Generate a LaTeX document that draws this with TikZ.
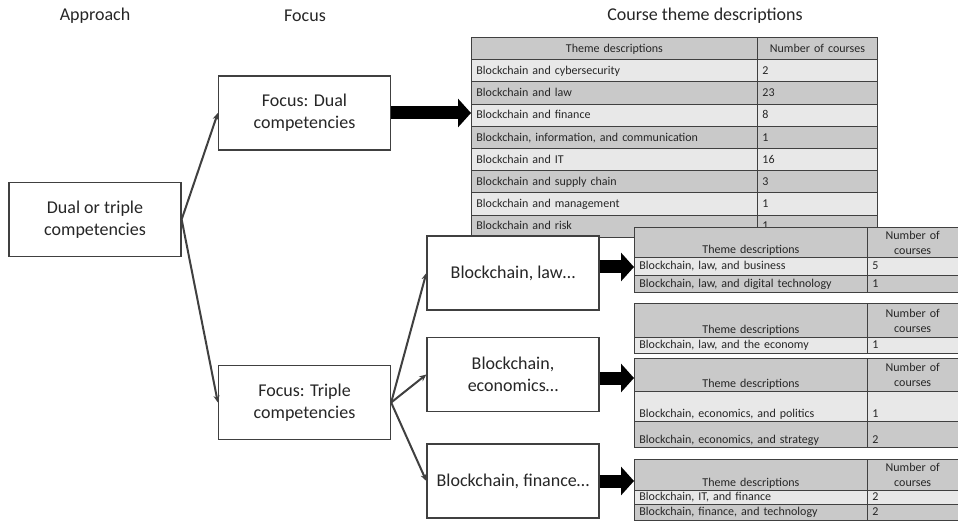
\documentclass[tikz,border=0pt]{standalone}
\usepackage{fontspec}
\setmainfont{Carlito}
\usetikzlibrary{arrows.meta, positioning}
\usepackage{xcolor}
\definecolor{edgegray}{RGB}{64,64,64}
\definecolor{headgray}{RGB}{201,201,201}
\definecolor{rowlight}{RGB}{232,232,232}
\definecolor{rowdark}{RGB}{201,201,201}

\begin{document}
\begin{tikzpicture}[x=1pt, y=-1pt,
    box/.style={rectangle, draw=edgegray, line width=1.3pt, fill=white, minimum width=172pt, minimum height=74pt, align=center, text=black!85, font=\fontsize{18}{22}\selectfont},
    title/.style={text=black!85, font=\fontsize{18}{22}\selectfont},
    link/.style={draw=edgegray, line width=2pt, -{Stealth[length=7pt, width=6pt]}},
    fat/.style={line width=13pt, -{Triangle[length=13pt, width=28pt]}},
    cell/.style={rectangle, draw=edgegray, line width=0.9pt, anchor=north west, inner xsep=5pt, inner ysep=0pt, align=left, text=black!85, font=\fontsize{12}{15}\selectfont, text height=9pt, text depth=2.5pt},
    head/.style={cell, fill=headgray, align=center, text height=, text depth=},
    rowtext/.style={text height=10pt, text depth=2.5pt},
    lowtext/.style={text depth=4pt, text height=#1}]
    \path[fill=white, use as bounding box] (0,0) rectangle (958,521);

    % Column titles
    \node[title] (approach) at (95,16) {Approach};
    \node[title] (focus) at (305,16) {Focus};
    \node[title] (themes) at (705,16) {Course theme descriptions};

    % Dual competencies table
    \node[head, rowtext, minimum width=286pt, text width=276pt, minimum height=22.2pt] (t1head) at (471,37) {Theme descriptions};
    \node[head, rowtext, minimum width=120pt, text width=110pt, minimum height=22.2pt] (t1headnum) at (757,37) {Number of courses};
    \foreach [count=\i] \theme/\num/\shade in {
        Blockchain and cybersecurity/2/rowlight,
        Blockchain and law/23/rowdark,
        Blockchain and finance/8/rowlight,
        {Blockchain, information, and communication}/1/rowdark,
        Blockchain and IT/16/rowlight,
        Blockchain and supply chain/3/rowdark,
        Blockchain and management/1/rowlight,
        Blockchain and risk/1/rowdark}{
        \node[cell, rowtext, fill=\shade, minimum width=286pt, text width=276pt, minimum height=22.2pt] (t1row\i) at (471, 37+22.2*\i) {\theme};
        \node[cell, rowtext, fill=\shade, minimum width=120pt, text width=110pt, minimum height=22.2pt] (t1num\i) at (757, 37+22.2*\i) {\num};
    }

    % Boxes
    \node[box] (dualtriple) at (95,219.5) {Dual or triple\\competencies};
    \node[box] (fdual) at (304.5,113) {Focus: Dual\\competencies};
    \node[box] (ftriple) at (304.5,402.5) {Focus: Triple\\competencies};
    \node[box] (blaw) at (513,273) {Blockchain, law…};
    \node[box] (becon) at (513,374.5) {Blockchain,\\economics…};
    \node[box] (bfin) at (513,481) {Blockchain, finance…};

    % Law table
    \node[head, minimum width=233pt, text width=223pt, minimum height=30pt, lowtext=26pt] (lawhead) at (634,227) {Theme descriptions};
    \node[head, minimum width=90.5pt, text width=80.5pt, minimum height=30pt] (lawheadnum) at (867,227) {Number of\\courses};
    \node[cell, fill=rowlight, minimum width=233pt, text width=223pt, minimum height=18pt] (lawrow1) at (634,257) {Blockchain, law, and business};
    \node[cell, fill=rowlight, minimum width=90.5pt, text width=80.5pt, minimum height=18pt] (lawnum1) at (867,257) {5};
    \node[cell, fill=rowdark, minimum width=233pt, text width=223pt, minimum height=17pt] (lawrow2) at (634,275) {Blockchain, law, and digital technology};
    \node[cell, fill=rowdark, minimum width=90.5pt, text width=80.5pt, minimum height=17pt] (lawnum2) at (867,275) {1};

    % Law and economy table
    \node[head, minimum width=233pt, text width=223pt, minimum height=34pt, lowtext=30pt] (laweconhead) at (634,303) {Theme descriptions};
    \node[head, minimum width=90.5pt, text width=80.5pt, minimum height=34pt] (laweconheadnum) at (867,303) {Number of\\courses};
    \node[cell, fill=rowlight, minimum width=233pt, text width=223pt, minimum height=16pt] (laweconrow1) at (634,337) {Blockchain, law, and the economy};
    \node[cell, fill=rowlight, minimum width=90.5pt, text width=80.5pt, minimum height=16pt] (laweconnum1) at (867,337) {1};

    % Economics table
    \node[head, minimum width=233pt, text width=223pt, minimum height=33pt, lowtext=29pt] (econhead) at (634,358) {Theme descriptions};
    \node[head, minimum width=90.5pt, text width=80.5pt, minimum height=33pt] (econheadnum) at (867,358) {Number of\\courses};
    \node[cell, fill=rowlight, minimum width=233pt, text width=223pt, minimum height=30pt, lowtext=26pt] (econrow1) at (634,391) {Blockchain, economics, and politics};
    \node[cell, fill=rowlight, minimum width=90.5pt, text width=80.5pt, minimum height=30pt, lowtext=26pt] (econnum1) at (867,391) {1};
    \node[cell, fill=rowdark, minimum width=233pt, text width=223pt, minimum height=26pt, lowtext=22pt] (econrow2) at (634,421) {Blockchain, economics, and strategy};
    \node[cell, fill=rowdark, minimum width=90.5pt, text width=80.5pt, minimum height=26pt, lowtext=22pt] (econnum2) at (867,421) {2};

    % Finance table
    \node[head, minimum width=233pt, text width=223pt, minimum height=31pt, lowtext=27pt] (finhead) at (634,459) {Theme descriptions};
    \node[head, minimum width=90.5pt, text width=80.5pt, minimum height=31pt] (finheadnum) at (867,459) {Number of\\courses};
    \node[cell, fill=rowlight, minimum width=233pt, text width=223pt, minimum height=14pt] (finrow1) at (634,490) {Blockchain, IT, and finance};
    \node[cell, fill=rowlight, minimum width=90.5pt, text width=80.5pt, minimum height=14pt] (finnum1) at (867,490) {2};
    \node[cell, fill=rowdark, minimum width=233pt, text width=223pt, minimum height=16pt] (finrow2) at (634,504) {Blockchain, finance, and technology};
    \node[cell, fill=rowdark, minimum width=90.5pt, text width=80.5pt, minimum height=16pt] (finnum2) at (867,504) {2};

    % Arrows
    \draw[link] (dualtriple.east) -- (fdual.west);
    \draw[link] (dualtriple.east) -- (ftriple.west);
    \draw[link] (ftriple.east) -- (blaw.west);
    \draw[link] (ftriple.east) -- (becon.west);
    \draw[link] (ftriple.east) -- (bfin.west);
    \draw[fat] (fdual.east) -- (fdual.east -| t1row3.west);
    \draw[fat] ([yshift=6pt]blaw.east) -- ([yshift=6pt]blaw.east -| lawhead.west);
    \draw[fat] ([yshift=-3.5pt]becon.east) -- ([yshift=-3.5pt]becon.east -| econhead.west);
    \draw[fat] (bfin.east) -- (bfin.east -| finhead.west);
\end{tikzpicture}
\end{document}
